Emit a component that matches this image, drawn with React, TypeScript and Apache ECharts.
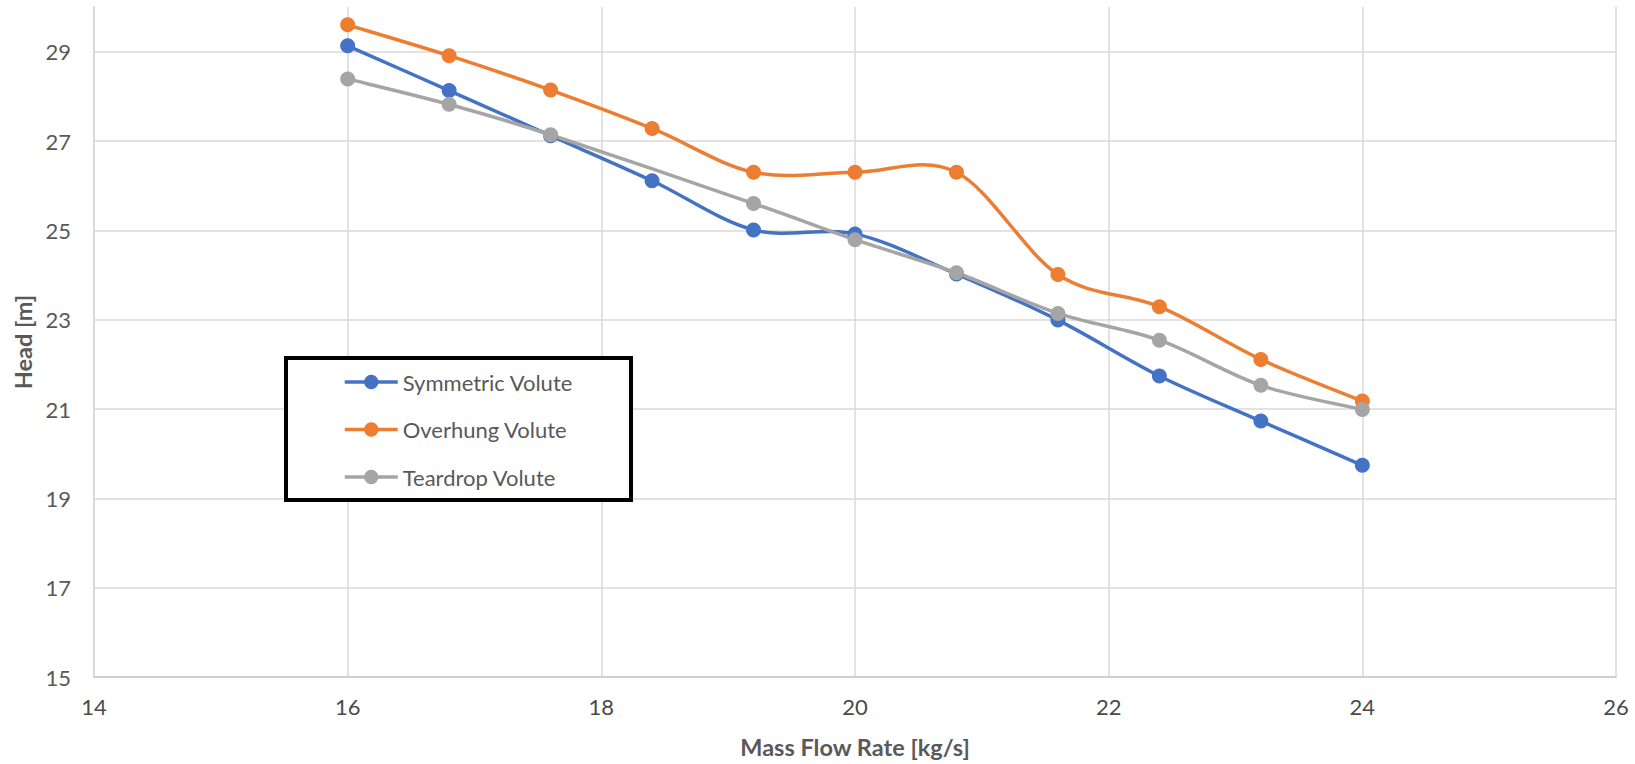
import React, { useEffect, useRef } from "react";
import * as echarts from "echarts";

const flowRates = [16, 16.8, 17.6, 18.4, 19.2, 20, 20.8, 21.6, 22.4, 23.2, 24];
const symmetricHead = [29.13, 28.13, 27.12, 26.11, 25.01, 24.92, 24.02, 22.99, 21.74, 20.73, 19.74];
const overhungHead = [29.6, 28.91, 28.14, 27.28, 26.3, 26.3, 26.3, 24.01, 23.29, 22.11, 21.18];
const teardropFlow = [16, 16.8, 17.6, 19.2, 20, 20.8, 21.6, 22.4, 23.2, 24];
const teardropHead = [28.39, 27.82, 27.14, 25.6, 24.79, 24.05, 23.14, 22.54, 21.53, 20.99];
const seriesNames = ["Symmetric Volute", "Overhung Volute", "Teardrop Volute"];
const colors = ["#4472C4", "#ED7D31", "#A5A5A5"];

const FONT = "Lato, 'Open Sans', sans-serif";
const LINE_W = 3.5;

export default function App() {
  const ref = useRef<HTMLDivElement>(null);
  useEffect(() => {
    if (!ref.current) return;
    const chart = echarts.init(ref.current, undefined, { renderer: "svg" });
    const pairs = (xs: number[], ys: number[]) => xs.map((x, i) => [x, ys[i]]);
    const datasets = [
      pairs(flowRates, symmetricHead),
      pairs(flowRates, overhungHead),
      pairs(teardropFlow, teardropHead),
    ];

    const curveSeries = (pts: number[][], color: string, idx: number) => ({
      type: "custom",
      name: "curve-" + idx,
      silent: true,
      data: pts,
      encode: { x: 0, y: 1 },
      z: 2,
      renderItem: (params: any, api: any) => {
        const i = params.dataIndex;
        const n = pts.length;
        if (i >= n - 1) return { type: "group", children: [] };
        const P = (k: number) => api.coord(pts[Math.max(0, Math.min(n - 1, k))]);
        const p0 = P(i - 1);
        const p1 = P(i);
        const p2 = P(i + 1);
        const p3 = P(i + 2);
        const t = 1 / 6;
        return {
          type: "bezierCurve",
          shape: {
            x1: p1[0],
            y1: p1[1],
            cpx1: p1[0] + (p2[0] - p0[0]) * t,
            cpy1: p1[1] + (p2[1] - p0[1]) * t,
            cpx2: p2[0] - (p3[0] - p1[0]) * t,
            cpy2: p2[1] - (p3[1] - p1[1]) * t,
            x2: p2[0],
            y2: p2[1],
          },
          style: { stroke: color, lineWidth: LINE_W, fill: null, lineCap: "round" },
        };
      },
    });

    const series: any[] = [];
    datasets.forEach((d, i) => {
      series.push(curveSeries(d, colors[i], i));
      series.push({
        name: seriesNames[i],
        type: "line",
        data: d,
        symbol: "circle",
        symbolSize: 15,
        showSymbol: true,
        color: colors[i],
        lineStyle: { width: 0, opacity: 0, color: colors[i] },
        itemStyle: { color: colors[i] },
        z: 2,
      });
    });

    chart.setOption({
      animation: false,
      textStyle: { fontFamily: FONT },
      grid: { left: 94, right: 19, top: 7, bottom: 86, containLabel: false },
      xAxis: {
        type: "value",
        min: 14,
        max: 26,
        interval: 2,
        name: "Mass Flow Rate [kg/s]",
        nameLocation: "middle",
        nameGap: 58,
        nameTextStyle: { fontFamily: FONT, fontSize: 23.5, fontWeight: "bold", color: "#595959" },
        axisLine: { show: true, lineStyle: { color: "#cfcfcf", width: 2 } },
        axisTick: { show: false },
        axisLabel: { fontFamily: FONT, fontSize: 22, color: "#4a4a4a", margin: 18 },
        splitLine: { show: true, lineStyle: { color: "#d9d9d9", width: 1.5 } },
      },
      yAxis: {
        type: "value",
        min: 15,
        max: 30,
        interval: 2,
        name: "Head [m]",
        nameLocation: "middle",
        nameGap: 58,
        nameTextStyle: { fontFamily: FONT, fontSize: 23.5, fontWeight: "bold", color: "#595959" },
        axisLine: { show: true, lineStyle: { color: "#d9d9d9", width: 2 } },
        axisTick: { show: false },
        axisLabel: { fontFamily: FONT, fontSize: 22, color: "#595959", margin: 23, showMaxLabel: false },
        splitLine: { show: true, showMaxLine: false, lineStyle: { color: "#d9d9d9", width: 1.5 } },
      },
      legend: {
        orient: "vertical",
        left: 343,
        top: 370,
        padding: 0,
        itemWidth: 53,
        itemHeight: 18,
        itemGap: 23.5,
        textStyle: { fontFamily: FONT, fontSize: 22, color: "#595959", lineHeight: 24 },
        data: seriesNames.map((name, i) => ({
          name,
          lineStyle: { width: LINE_W, opacity: 1, color: colors[i] },
          itemStyle: { color: colors[i], opacity: 1 },
        })),
      },
      graphic: [
        {
          type: "rect",
          z: 3,
          shape: { x: 286, y: 358, width: 345, height: 142 },
          style: { fill: "#ffffff", stroke: "#000000", lineWidth: 4 },
        },
      ],
      series,
    });
    return () => chart.dispose();
  }, []);
  return (
    <div
      ref={ref}
      style={{ position: "fixed", left: 0, top: 0, width: 1635, height: 764, background: "#fff" }}
    />
  );
}
